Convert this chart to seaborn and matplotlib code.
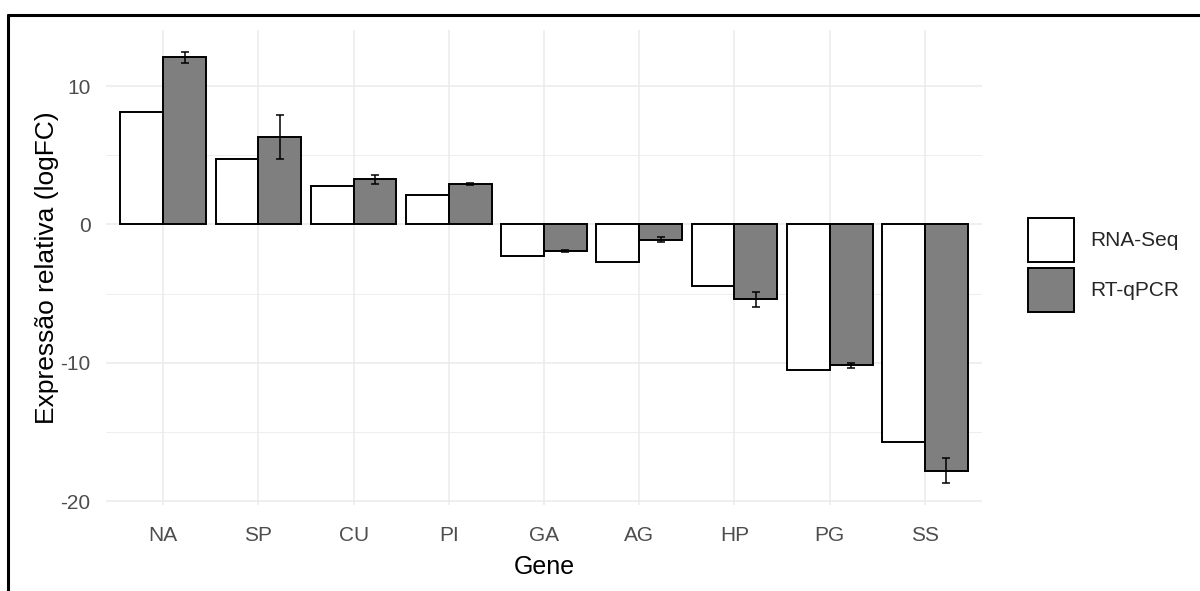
import numpy as np
import pandas as pd
import matplotlib
matplotlib.use("Agg")
import matplotlib.pyplot as plt
import seaborn as sns
from matplotlib.lines import Line2D
from matplotlib.ticker import MultipleLocator

# --- DATA ---
genes = ["NA", "SP", "CU", "PI", "GA", "AG", "HP", "PG", "SS"]
methods = ["RNA-Seq", "RT-qPCR"]
rnaseq = [8.1, 4.7, 2.75, 2.1, -2.25, -2.7, -4.45, -10.55, -15.7]
rtqpcr = [12.1, 6.3, 3.25, 2.9, -1.9, -1.1, -5.4, -10.2, -17.8]
rtqpcr_err = [0.4, 1.6, 0.35, 0.08, 0.08, 0.2, 0.55, 0.2, 0.9]

df = pd.DataFrame({
    "Gene": genes * 2,
    "logFC": rnaseq + rtqpcr,
    "Metodo": [methods[0]] * len(genes) + [methods[1]] * len(genes),
})

# --- STYLE ---
sns.set_style("white")
plt.rcParams["font.family"] = ["Liberation Sans", "DejaVu Sans"]
plt.rcParams["axes.unicode_minus"] = False

fig = plt.figure(figsize=(12, 5.91), dpi=100)
ax = fig.add_axes([106 / 1200, 1 - 504.6 / 591, 876 / 1200, (504.6 - 30) / 591])

bar_w = 0.9
sns.barplot(data=df, x="Gene", y="logFC", hue="Metodo", order=genes,
            hue_order=methods, palette=["white", "#7f7f7f"],
            edgecolor="black", linewidth=1.4, width=bar_w, gap=0,
            errorbar=None, ax=ax, zorder=3)

# error bars on RT-qPCR bars
x_rt = np.arange(len(genes)) + bar_w / 4
ax.errorbar(x_rt, rtqpcr, yerr=rtqpcr_err, fmt="none", ecolor="black",
            elinewidth=1.1, capsize=3, capthick=1.1, zorder=4)

ax.set_xlim(-0.6, len(genes) - 0.4)
ax.set_ylim(-20.26, 14.06)
ax.yaxis.set_major_locator(MultipleLocator(10))
ax.yaxis.set_minor_locator(MultipleLocator(5))
ax.grid(True, which="major", color="#EBEBEB", linewidth=1.1, zorder=0)
ax.grid(True, which="minor", axis="y", color="#EBEBEB", linewidth=0.6, zorder=0)
ax.set_axisbelow(True)
for s in ax.spines.values():
    s.set_visible(False)
ax.tick_params(axis="both", which="both", length=0, labelsize=15,
               labelcolor="#4D4D4D")
ax.tick_params(axis="x", pad=15.5)
ax.tick_params(axis="y", pad=11)

ax.set_xlabel("Gene", fontsize=18, color="black", labelpad=7)
ax.set_ylabel("Expressão relativa (logFC)", fontsize=19, color="black",
              labelpad=1)

# legend on the right
handles, labels = ax.get_legend_handles_labels()
ax.get_legend().remove()
fig.legend(handles, labels, loc="upper left",
           bbox_to_anchor=(1028 / 1200, 1 - 218 / 591), frameon=False,
           fontsize=15, handlelength=2.2, handleheight=2.9,
           labelspacing=0.25, handletextpad=0.8, borderpad=0,
           borderaxespad=0)

# frame lines of the screenshot (top and left)
fig.add_artist(Line2D([8 / 1200, 1], [1 - 15 / 591, 1 - 15 / 591],
                      color="black", linewidth=2.2,
                      transform=fig.transFigure))
fig.add_artist(Line2D([8 / 1200, 8 / 1200], [0, 1 - 15 / 591],
                      color="black", linewidth=2.2,
                      transform=fig.transFigure))

fig.savefig("out.png", dpi=100)
